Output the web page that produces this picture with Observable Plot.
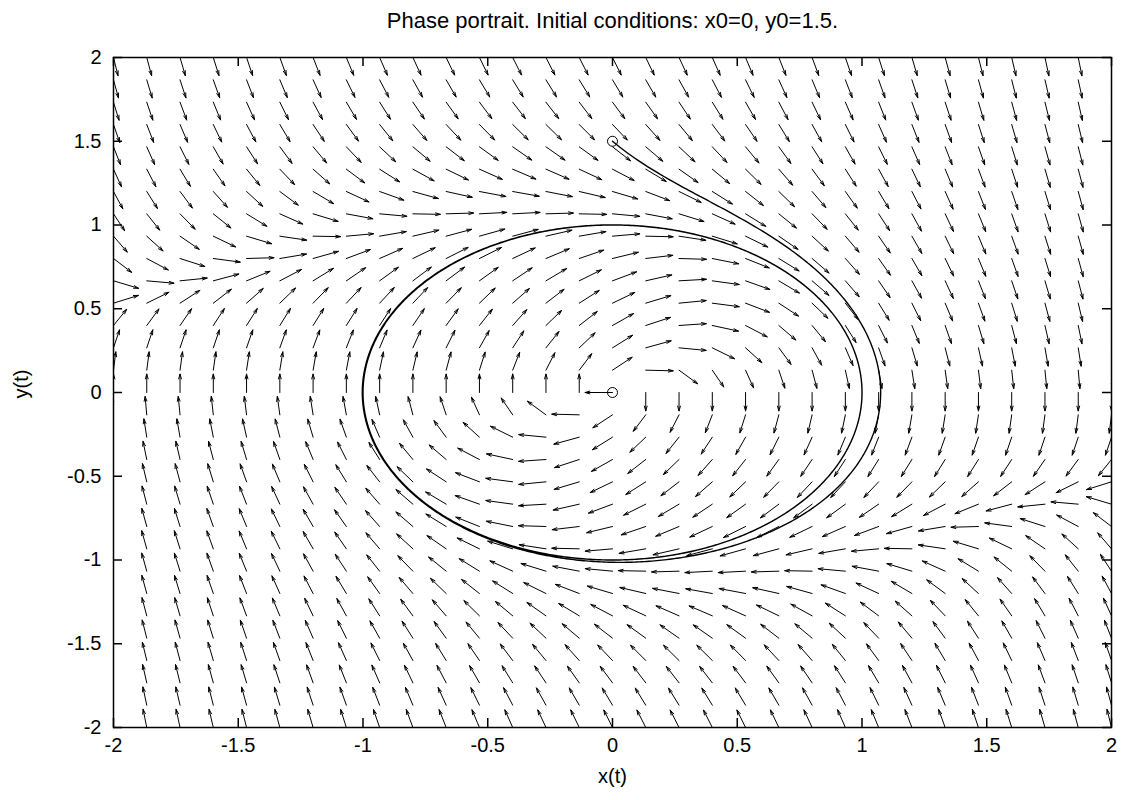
<!DOCTYPE html>
<html>
<head>
<meta charset="utf-8">
<script src="https://cdn.jsdelivr.net/npm/d3@7"></script>
<script src="https://cdn.jsdelivr.net/npm/@observablehq/plot@0.6"></script>
<style>
  html, body { margin: 0; padding: 0; background: #fff; }
  #chart svg { display: block; font-family: "Liberation Sans", Arial, sans-serif; }
</style>
</head>
<body>
<div id="chart"></div>
<script>
// ---- Data ----
const titleText = "Phase portrait. Initial conditions: x0=0, y0=1.5.";
const xLabel = "x(t)";
const yLabel = "y(t)";
const xTicks = [-2, -1.5, -1, -0.5, 0, 0.5, 1, 1.5, 2];
const yTicks = [-2, -1.5, -1, -0.5, 0, 0.5, 1, 1.5, 2];
// sample points of the direction field (31 x 31 grid)
const xGrid = [-2, -1.8667, -1.7333, -1.6, -1.4667, -1.3333, -1.2, -1.0667, -0.9333, -0.8, -0.6667,
  -0.5333, -0.4, -0.2667, -0.1333, 0, 0.1333, 0.2667, 0.4, 0.5333, 0.6667, 0.8, 0.9333, 1.0667,
  1.2, 1.3333, 1.4667, 1.6, 1.7333, 1.8667, 2];
const yGrid = [-2, -1.8667, -1.7333, -1.6, -1.4667, -1.3333, -1.2, -1.0667, -0.9333, -0.8, -0.6667,
  -0.5333, -0.4, -0.2667, -0.1333, 0, 0.1333, 0.2667, 0.4, 0.5333, 0.6667, 0.8, 0.9333, 1.0667,
  1.2, 1.3333, 1.4667, 1.6, 1.7333, 1.8667, 2];
const arrowLength = 0.11;          // drawn length of each field arrow (data units)
const zeroDirection = [-1, 0];     // how the source draws the arrow at the rest point
// the system shown: x' = y, y' = -x + y(1 - x^2 - y^2)
const initialPoint = [0, 1.5];
const restPoint = [0, 0];
const tEnd = 20, tStep = 0.01;
const markedPoints = [initialPoint, restPoint];

function system(x, y) {
  return [y, -x + y * (1 - x * x - y * y)];
}

// direction field
const field = [];
for (const gx of xGrid) for (const gy of yGrid) {
  let [u, v] = system(gx, gy);
  const m = Math.hypot(u, v);
  if (m < 1e-12) { [u, v] = zeroDirection; } else { u /= m; v /= m; }
  field.push({x1: gx, y1: gy, x2: gx + arrowLength * u, y2: gy + arrowLength * v});
}

// trajectory (RK4 integration of the system)
const traj = [];
{
  let [x, y] = initialPoint;
  traj.push([x, y]);
  for (let t = 0; t < tEnd; t += tStep) {
    const h = tStep;
    const k1 = system(x, y);
    const k2 = system(x + h / 2 * k1[0], y + h / 2 * k1[1]);
    const k3 = system(x + h / 2 * k2[0], y + h / 2 * k2[1]);
    const k4 = system(x + h * k3[0], y + h * k3[1]);
    x += h / 6 * (k1[0] + 2 * k2[0] + 2 * k3[0] + k4[0]);
    y += h / 6 * (k1[1] + 2 * k2[1] + 2 * k3[1] + k4[1]);
    traj.push([x, y]);
  }
}

const W = 1128, H = 800;
const mL = 113, mR = 17, mT = 57, mB = 73;
const innerH = H - mT - mB, innerW = W - mL - mR;
const tickLen = 9;
const fmt = d => String(d);

const chart = Plot.plot({
  width: W,
  height: H,
  marginLeft: mL, marginRight: mR, marginTop: mT, marginBottom: mB,
  style: {fontFamily: "'Liberation Sans', Arial, sans-serif", background: "#fff", color: "#000"},
  x: {domain: [-2, 2]},
  y: {domain: [-2, 2]},
  marks: [
    Plot.arrow(field, {x1: "x1", y1: "y1", x2: "x2", y2: "y2", stroke: "#000", strokeWidth: 1, headLength: 7.5, headAngle: 32, clip: true}),
    Plot.line(traj, {x: d => d[0], y: d => d[1], stroke: "#000", strokeWidth: 1.4, curve: "linear"}),
    Plot.dot(markedPoints, {x: d => d[0], y: d => d[1], r: 5, stroke: "#000", fill: "none", strokeWidth: 1}),
    // inward ticks (bottom/top/left/right)
    Plot.tickX(xTicks, {x: d => d, insetTop: innerH - tickLen, stroke: "#000", strokeWidth: 1.5}),
    Plot.tickX(xTicks, {x: d => d, insetBottom: innerH - tickLen, stroke: "#000", strokeWidth: 1.5}),
    Plot.tickY(yTicks, {y: d => d, insetRight: innerW - tickLen, stroke: "#000", strokeWidth: 1.5}),
    Plot.tickY(yTicks, {y: d => d, insetLeft: innerW - tickLen, stroke: "#000", strokeWidth: 1.5}),
    Plot.frame({stroke: "#000", strokeWidth: 1.5}),
    Plot.axisX(xTicks, {tickSize: 0, tickPadding: 10, fontSize: 20, tickFormat: fmt, label: null}),
    Plot.axisY(yTicks, {tickSize: 0, tickPadding: 12, fontSize: 20, tickFormat: fmt, label: null}),
    Plot.text([titleText], {text: d => d, frameAnchor: "top", lineAnchor: "middle", dy: -37, fontSize: 22}),
    Plot.text([xLabel], {text: d => d, frameAnchor: "bottom", lineAnchor: "middle", dy: 49, fontSize: 20}),
    Plot.text([yLabel], {text: d => d, frameAnchor: "left", lineAnchor: "middle", dx: -92, dy: 6, rotate: -90, fontSize: 20})
  ]
});
document.getElementById("chart").appendChild(chart);
</script>
</body>
</html>
